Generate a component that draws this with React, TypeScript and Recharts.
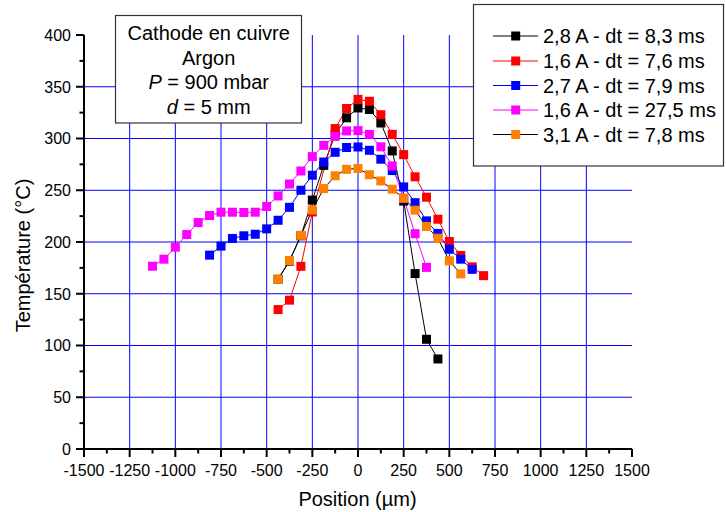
import React from 'react';
import { LineChart, Line, XAxis, YAxis, CartesianGrid } from 'recharts';

const FONT = '"Liberation Sans", Arial, Helvetica, sans-serif';

// Axis ticks
const xTicks = [-1500, -1375, -1250, -1125, -1000, -875, -750, -625, -500, -375, -250, -125, 0, 125, 250, 375, 500, 625, 750, 875, 1000, 1125, 1250, 1375, 1500];
const xMajorTicks = [-1500, -1250, -1000, -750, -500, -250, 0, 250, 500, 750, 1000, 1250, 1500];
const yTicks = [0, 25, 50, 75, 100, 125, 150, 175, 200, 225, 250, 275, 300, 325, 350, 375, 400];
const yMajorTicks = [0, 50, 100, 150, 200, 250, 300, 350, 400];
const xGridValues = [-1250, -1000, -750, -500, -250, 0, 250, 500, 750, 1000, 1250];
const yGridValues = [50, 100, 150, 200, 250, 300, 350];

// Series: 2,8 A - dt = 8,3 ms
const posBlack = [-437.5, -375, -312.5, -250, -187.5, -125, -62.5, 0, 62.5, 125, 187.5, 250, 312.5, 375, 437.5];
const tempBlack = [164, 181.5, 206, 240.5, 274, 304, 320, 329.5, 328, 315, 288, 239.5, 169.5, 106, 87];

// Series: 1,6 A - dt = 7,6 ms
const posRed = [-437.5, -375, -312.5, -250, -125, -62.5, 0, 62.5, 125, 187.5, 250, 312.5, 375, 437.5, 500, 562.5, 625, 687.5];
const tempRed = [134.7, 143.8, 176.5, 229, 309.6, 329, 337.8, 336, 323, 304, 284.4, 263, 243.3, 222, 200.5, 187, 176, 167.5];

// Series: 2,7 A - dt = 7,9 ms
const posBlue = [-812.5, -750, -687.5, -625, -562.5, -500, -437.5, -375, -312.5, -250, -187.5, -125, -62.5, 0, 62.5, 125, 187.5, 250, 312.5, 375, 437.5, 500, 562.5, 625];
const tempBlue = [187.3, 196, 203.4, 206, 207.5, 212.7, 221, 233.5, 250, 264.5, 277.3, 286.7, 291.3, 291.8, 288.6, 280, 269, 253.2, 238, 220.4, 208.2, 193, 183.4, 173.6];

// Series: 1,6 A - dt = 27,5 ms
const posMagenta = [-1125, -1062.5, -1000, -937.5, -875, -812.5, -750, -687.5, -625, -562.5, -500, -437.5, -375, -312.5, -250, -187.5, -125, -62.5, 0, 62.5, 125, 187.5, 250, 312.5, 375];
const tempMagenta = [176.6, 183.4, 195, 207.2, 218.8, 225.6, 228.8, 228.8, 228.5, 228.8, 234.3, 244.5, 256, 268.6, 282.5, 293.4, 302, 307.3, 307.6, 304, 292, 273.5, 242, 208, 175.5];

// Series: 3,1 A - dt = 7,8 ms
const posOrange = [-437.5, -375, -312.5, -250, -187.5, -125, -62.5, 0, 62.5, 125, 187.5, 250, 312.5, 375, 437.5, 500, 562.5];
const tempOrange = [164, 182, 206.4, 231, 251.6, 264, 270.2, 271, 265, 259, 251, 242.5, 230.7, 215, 203.7, 181.8, 169.2];

const seriesNames = ['2,8 A - dt = 8,3 ms', '1,6 A - dt = 7,6 ms', '2,7 A - dt = 7,9 ms', '1,6 A - dt = 27,5 ms', '3,1 A - dt = 7,8 ms'];
const lineColors = ['#000000', '#ff0000', '#0000ff', '#ff00ff', '#000000'];
const markerColors = ['#000000', '#ff0000', '#0000ff', '#ff00ff', '#ff8000'];

const toRows = (xs: number[], ys: number[]) => xs.map((x, i) => ({ x, y: ys[i] }));

const series = [
  toRows(posBlack, tempBlack),
  toRows(posRed, tempRed),
  toRows(posBlue, tempBlue),
  toRows(posMagenta, tempMagenta),
  toRows(posOrange, tempOrange),
];

const squareDot = (color: string) => (props: any) => {
  const { cx, cy, index } = props;
  if (cx == null || cy == null) return <g key={index} />;
  return <rect key={index} x={cx - 4.5} y={cy - 4.5} width={9} height={9} fill={color} />;
};

const XTick = (props: any) => {
  const { x, y, payload } = props;
  const v = payload.value;
  const major = xMajorTicks.includes(v);
  return (
    <g>
      <line x1={x} x2={x} y1={y} y2={y + (major ? 8 : 4.5)} stroke="#000" strokeWidth={2} />
      {major && (
        <text x={x} y={y + 27} textAnchor="middle" fontSize={16} fontFamily={FONT} fill="#000">
          {String(v)}
        </text>
      )}
    </g>
  );
};

const YTick = (props: any) => {
  const { x, y, payload } = props;
  const v = payload.value;
  const major = yMajorTicks.includes(v);
  return (
    <g>
      <line x1={x - (major ? 8 : 4.5)} x2={x} y1={y} y2={y} stroke="#000" strokeWidth={2} />
      {major && (
        <text x={x - 13} y={y + 5.8} textAnchor="end" fontSize={16} fontFamily={FONT} fill="#000">
          {String(v)}
        </text>
      )}
    </g>
  );
};

export default function App() {
  const legendRowY = [36, 61, 85.5, 110, 134.5];
  return (
    <div style={{ position: 'absolute', left: 0, top: 0, width: 726, height: 512, background: '#fff' }}>
      <LineChart width={726} height={512} margin={{ top: 35, right: 94, bottom: 33, left: 54 }}>
        <CartesianGrid
          stroke="#0000ff"
          strokeWidth={1}
          horizontalValues={yGridValues}
          verticalValues={xGridValues}
        />
        <XAxis
          type="number"
          dataKey="x"
          domain={[-1500, 1500]}
          ticks={xTicks}
          interval={0}
          allowDataOverflow
          height={30}
          tickSize={0}
          tickMargin={0}
          tickLine={false}
          axisLine={{ stroke: '#000', strokeWidth: 2 }}
          tick={<XTick />}
        />
        <YAxis
          type="number"
          dataKey="y"
          domain={[0, 400]}
          ticks={yTicks}
          interval={0}
          allowDataOverflow
          width={30}
          tickSize={0}
          tickMargin={0}
          tickLine={false}
          axisLine={{ stroke: '#000', strokeWidth: 2 }}
          tick={<YTick />}
        />
        {series.map((rows, i) => (
          <Line
            key={seriesNames[i]}
            data={rows}
            dataKey="y"
            type="linear"
            stroke={lineColors[i]}
            strokeWidth={1}
            dot={squareDot(markerColors[i])}
            activeDot={false}
            isAnimationActive={false}
          />
        ))}
      </LineChart>
      <svg
        width={726}
        height={512}
        style={{ position: 'absolute', left: 0, top: 0, pointerEvents: 'none' }}
        fontFamily={FONT}
      >
        {/* axis titles */}
        <text x={357.5} y={506} textAnchor="middle" fontSize={20} fill="#000">Position (µm)</text>
        <text transform="rotate(-90)" x={-255.5} y={30} textAnchor="middle" fontSize={20} fill="#000">Température (°C)</text>

        {/* annotation box */}
        <rect x={115.5} y={15.5} width={186} height={107.5} fill="#fff" stroke="#333" strokeWidth={1.2} />
        <text x={208.7} y={40.2} textAnchor="middle" fontSize={20} fill="#000">Cathode en cuivre</text>
        <text x={208.7} y={64.5} textAnchor="middle" fontSize={20} fill="#000">Argon</text>
        <text x={208.7} y={88.9} textAnchor="middle" fontSize={20} fill="#000">
          <tspan fontStyle="italic">P</tspan> = 900 mbar
        </text>
        <text x={208.7} y={113.9} textAnchor="middle" fontSize={20} fill="#000">
          <tspan fontStyle="italic">d</tspan> = 5 mm
        </text>

        {/* legend */}
        <rect x={473.5} y={4.5} width={250} height={161.5} fill="#fff" stroke="#333" strokeWidth={1.2} />
        {seriesNames.map((name, i) => (
          <g key={name}>
            <line x1={493} x2={538} y1={legendRowY[i]} y2={legendRowY[i]} stroke={lineColors[i]} strokeWidth={1} />
            <rect x={511.2} y={legendRowY[i] - 4.5} width={9} height={9} fill={markerColors[i]} />
            <text x={543} y={legendRowY[i] + 7.2} fontSize={20} fill="#000">{name}</text>
          </g>
        ))}
      </svg>
    </div>
  );
}
